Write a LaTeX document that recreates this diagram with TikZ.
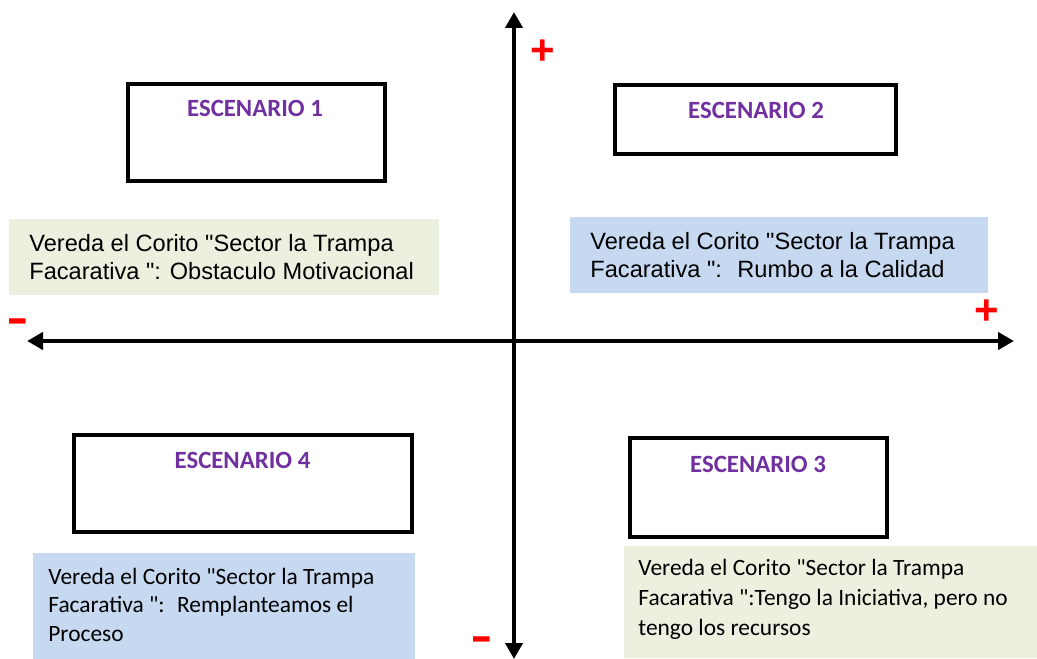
\documentclass[tikz,border=0pt]{standalone}
\usepackage{fontspec}
\setmainfont{Liberation Sans}
\newfontfamily\calibri{Carlito}
\usetikzlibrary{arrows.meta}
\definecolor{verdeclaro}{HTML}{EBF1DE}
\definecolor{azulclaro}{HTML}{C6D9F1}
\definecolor{morado}{HTML}{7030A0}

\begin{document}
\begin{tikzpicture}[x=0.5pt,y=-0.5pt,
  caja/.style={draw=black,line width=2pt,inner sep=0pt},
  titulo/.style={anchor=base,text=morado,font=\calibri\bfseries\fontsize{12.4}{14}\selectfont},
  fondo/.style={anchor=north west,inner sep=0pt},
  nota/.style={anchor=base west,align=left,inner sep=0pt},
  eje/.style={line width=2.2pt},
  signo/.style={text=red,inner sep=0pt,anchor=base,text height=10pt,text depth=0pt}]
\useasboundingbox (0,0) rectangle (1037,658);
% fondos de colores
\node[fondo,fill=verdeclaro,minimum width=215pt,minimum height=38pt] (fondo1) at (9,219) {};
\node[fondo,fill=azulclaro,minimum width=209pt,minimum height=38pt] (fondo2) at (570,217) {};
\node[fondo,fill=azulclaro,minimum width=191pt,minimum height=53pt] (fondo4) at (33,553) {};
\node[fondo,fill=verdeclaro,minimum width=207pt,minimum height=56pt] (fondo3) at (624,546) {};
% ejes
\coordinate (izq) at (27,341);
\coordinate (der) at (1014,341);
\coordinate (arriba) at (514,12);
\coordinate (abajo) at (514,659);
\draw[eje,{Triangle[length=8pt,width=8.5pt]}-{Triangle[length=8pt,width=8.5pt]}] (izq) -- (der);
\draw[eje,{Triangle[length=8pt,width=8.5pt]}-{Triangle[length=8pt,width=8.5pt]}] (arriba) -- (abajo);
% signos
\node[signo,font=\bfseries\fontsize{21}{21}\selectfont] (masy) at (543,65) {+};
\node[signo,font=\bfseries\fontsize{21}{21}\selectfont] (masx) at (986.5,324) {+};
\node[signo,font=\fontsize{34}{34}\selectfont] (menosx) at (17.5,339) {-};
\node[signo,font=\fontsize{34}{34}\selectfont] (menosy) at (481.5,657) {-};
% escenarios
\node[caja,minimum width=128.5pt,minimum height=48.5pt] (esc1) at (256.5,132.5) {};
\node[caja,minimum width=140.5pt,minimum height=34.5pt] (esc2) at (755.5,119.5) {};
\node[caja,minimum width=128.5pt,minimum height=49.5pt] (esc3) at (758.5,487.5) {};
\node[caja,minimum width=169pt,minimum height=48.5pt] (esc4) at (243,483.5) {};
\node[titulo] (tit1) at (255,117) {ESCENARIO 1};
\node[titulo] (tit2) at (756,119) {ESCENARIO 2};
\node[titulo] (tit3) at (758,472) {ESCENARIO 3};
\node[titulo] (tit4) at (242.5,468) {ESCENARIO 4};
% textos (el ancla base queda en la ultima linea)
\node[nota,font=\fontsize{11.8}{14}\selectfont] (nota1) at (29,279.5)
  {Vereda el Corito \textquotedbl Sector la Trampa\\Facarativa \textquotedbl: Obstaculo Motivacional};
\node[nota,font=\fontsize{11.8}{14}\selectfont] (nota2) at (590,277)
  {Vereda el Corito \textquotedbl Sector la Trampa\\Facarativa \textquotedbl: \ Rumbo a la Calidad};
\node[nota,font=\calibri\fontsize{11.7}{15}\selectfont] (nota3) at (638,635)
  {Vereda el Corito "Sector la Trampa\\Facarativa ":Tengo la Iniciativa, pero no\\tengo los recursos};
\node[nota,font=\calibri\fontsize{11.7}{14.25}\selectfont] (nota4) at (48,641)
  {Vereda el Corito "Sector la Trampa\\Facarativa ": \ Remplanteamos el\\Proceso};
\end{tikzpicture}
\end{document}
